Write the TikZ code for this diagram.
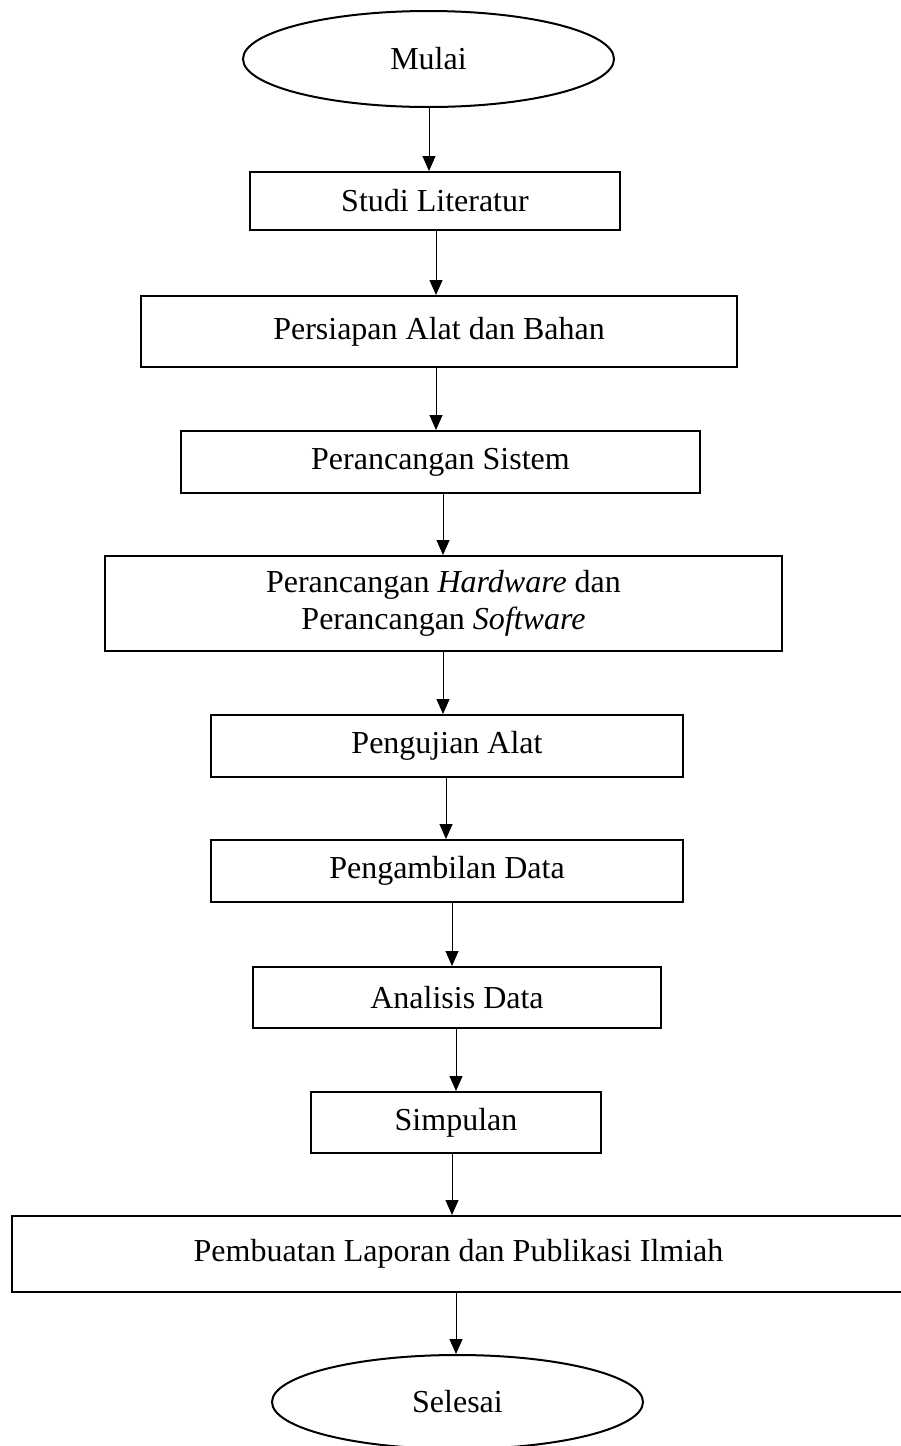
\documentclass[tikz,border=0pt]{standalone}
\usepackage{fontspec}
\setmainfont{Liberation Serif}
\usetikzlibrary{shapes.geometric,arrows.meta}

\tikzset{
  stepbox/.style={draw, line width=2pt, rectangle, inner sep=0pt, align=center,
                  font=\fontsize{32}{37}\selectfont},
  terminal/.style={draw, line width=2pt, ellipse, inner sep=0pt,
                   font=\fontsize{32}{37}\selectfont},
  flow/.style={line width=1pt, -{Triangle[width=13pt,length=15pt]}}
}

\begin{document}
\begin{tikzpicture}[x=1pt, y=-1pt]
\useasboundingbox (0,0) rectangle (900,1446);

% start and end
\node[terminal, minimum width=371pt, minimum height=96pt] (mulai) at (428.5,59) {Mulai};
\node[terminal, minimum width=371pt, minimum height=94pt] (selesai) at (457.5,1402) {Selesai};

% process steps
\node[stepbox, minimum width=370pt, minimum height=58pt] (studi)    at (435,201)    {Studi Literatur};
\node[stepbox, minimum width=596pt, minimum height=71pt] (siap)     at (439,331.5)  {Persiapan Alat dan Bahan};
\node[stepbox, minimum width=519pt, minimum height=62pt] (sistem)   at (440.5,462)  {Perancangan Sistem};
\node[stepbox, minimum width=677pt, minimum height=95pt] (hwsw)     at (443.5,603.5) {Perancangan \textit{Hardware} dan\\Perancangan \textit{Software}};
\node[stepbox, minimum width=472pt, minimum height=62pt] (uji)      at (447,746)    {Pengujian Alat};
\node[stepbox, minimum width=472pt, minimum height=62pt] (ambil)    at (447,871)    {Pengambilan Data};
\node[stepbox, minimum width=408pt, minimum height=61pt] (analisis) at (457,997.5)  {Analisis Data};
\node[stepbox, minimum width=290pt, minimum height=61pt] (simpulan) at (456,1122.5) {Simpulan};
\node[stepbox, minimum width=893pt, minimum height=76pt] (laporan)  at (458.5,1254) {Pembuatan Laporan dan Publikasi Ilmiah};

% connectors
\draw[flow] (429,0 |- mulai.south)    -- (429,0 |- studi.north);
\draw[flow] (436,0 |- studi.south)    -- (436,0 |- siap.north);
\draw[flow] (436,0 |- siap.south)     -- (436,0 |- sistem.north);
\draw[flow] (443,0 |- sistem.south)   -- (443,0 |- hwsw.north);
\draw[flow] (443,0 |- hwsw.south)     -- (443,0 |- uji.north);
\draw[flow] (446,0 |- uji.south)      -- (446,0 |- ambil.north);
\draw[flow] (452,0 |- ambil.south)    -- (452,0 |- analisis.north);
\draw[flow] (456,0 |- analisis.south) -- (456,0 |- simpulan.north);
\draw[flow] (452,0 |- simpulan.south) -- (452,0 |- laporan.north);
\draw[flow] (456,0 |- laporan.south)  -- (456,0 |- selesai.north);
\end{tikzpicture}
\end{document}
